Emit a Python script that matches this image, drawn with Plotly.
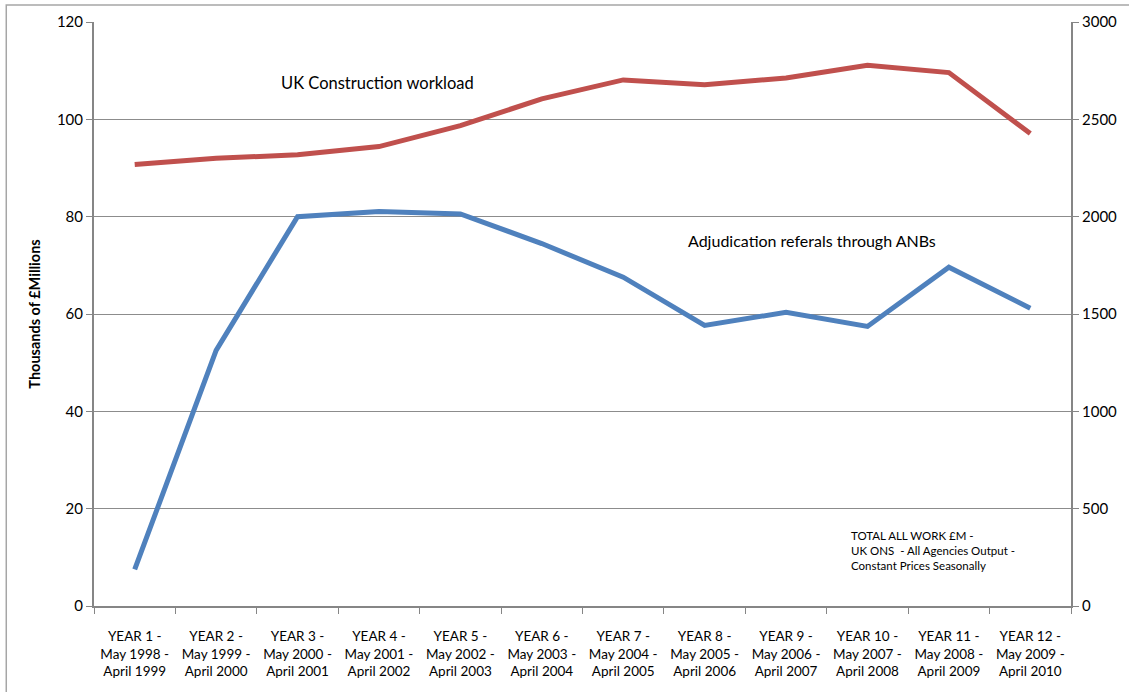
import plotly.graph_objects as go

# Reporting years (May to April)
years = [
    "YEAR 1 -<br>May 1998 -<br>April 1999",
    "YEAR 2 -<br>May 1999 -<br>April 2000",
    "YEAR 3 -<br>May 2000 -<br>April 2001",
    "YEAR 4 -<br>May 2001 -<br>April 2002",
    "YEAR 5 -<br>May 2002 -<br>April 2003",
    "YEAR 6 -<br>May 2003 -<br>April 2004",
    "YEAR 7 -<br>May 2004 -<br>April 2005",
    "YEAR 8 -<br>May 2005 -<br>April 2006",
    "YEAR 9 -<br>May 2006 -<br>April 2007",
    "YEAR 10 -<br>May 2007 -<br>April 2008",
    "YEAR 11 -<br>May 2008 -<br>April 2009",
    "YEAR 12 -<br>May 2009 -<br>April 2010",
]

# UK construction workload, thousands of £ millions (left axis)
construction_workload = [90.7, 92.0, 92.7, 94.4, 98.7, 104.2, 108.1, 107.1, 108.5, 111.1, 109.6, 97.1]

# Adjudication referrals through ANBs (right axis)
adjudication_referrals = [188, 1313, 2000, 2027, 2014, 1862, 1689, 1441, 1509, 1436, 1740, 1530]

FONT = "Lato, Carlito, 'Liberation Sans', sans-serif"
AXIS_GREY = "#868686"
GRID_GREY = "#8c8c8c"

fig = go.Figure()

fig.add_trace(go.Scatter(
    x=years, y=construction_workload, mode="lines",
    line=dict(color="#c0504d", width=5),
    name="UK Construction workload", yaxis="y",
))
fig.add_trace(go.Scatter(
    x=years, y=adjudication_referrals, mode="lines",
    line=dict(color="#4f81bd", width=5),
    name="Adjudication referals through ANBs", yaxis="y2",
))

fig.update_layout(
    width=1129, height=692,
    margin=dict(l=94, r=55, t=21, b=86),
    paper_bgcolor="white", plot_bgcolor="white",
    showlegend=False,
    font=dict(family=FONT, size=13, color="#000000"),
    xaxis=dict(
        type="category", tickson="boundaries", ticks="outside", ticklen=6,
        tickcolor=AXIS_GREY, showline=True, linecolor=AXIS_GREY, linewidth=2,
        showgrid=False, tickfont=dict(size=13.5), range=[-0.5, 11.5],
        ticklabelstandoff=17,
    ),
    yaxis=dict(
        range=[0, 120], dtick=20, ticks="outside", ticklen=6, tickcolor=AXIS_GREY,
        showline=True, linecolor=AXIS_GREY, linewidth=2,
        showgrid=True, gridcolor=GRID_GREY, gridwidth=1, zeroline=False,
        tickfont=dict(size=15),
        title=dict(text="<b>Thousands of £Millions</b>", font=dict(size=14.5), standoff=13),
    ),
    yaxis2=dict(
        range=[0, 3000], dtick=500, overlaying="y", side="right",
        ticks="outside", ticklen=6, tickcolor=AXIS_GREY,
        showline=True, linecolor=AXIS_GREY, linewidth=2,
        showgrid=False, zeroline=False, tickfont=dict(size=15),
    ),
    annotations=[
        dict(text="UK Construction workload", x=(280 - 94) / 980, y=(606 - 82) / 585,
             xref="paper", yref="paper", xanchor="left", yanchor="middle",
             showarrow=False, font=dict(size=16.5)),
        dict(text="Adjudication referals through ANBs", x=(688 - 94) / 980, y=(606 - 240) / 585,
             xref="paper", yref="paper", xanchor="left", yanchor="middle",
             showarrow=False, font=dict(size=16)),
        dict(text="TOTAL ALL WORK £M -<br>UK ONS  - All Agencies Output -<br>Constant Prices Seasonally",
             x=(851 - 94) / 980, y=(606 - 550) / 585, xref="paper", yref="paper",
             xanchor="left", yanchor="middle", align="left", showarrow=False,
             font=dict(size=11.5)),
    ],
    shapes=[
        dict(type="rect", xref="paper", yref="paper",
             x0=(6 - 94) / 980, x1=(1140 - 94) / 980,
             y0=(606 - 700) / 585, y1=(606 - 4) / 585,
             line=dict(color="#a6a6a6", width=1.5), layer="below"),
    ],
)

fig.write_html("out.html")
